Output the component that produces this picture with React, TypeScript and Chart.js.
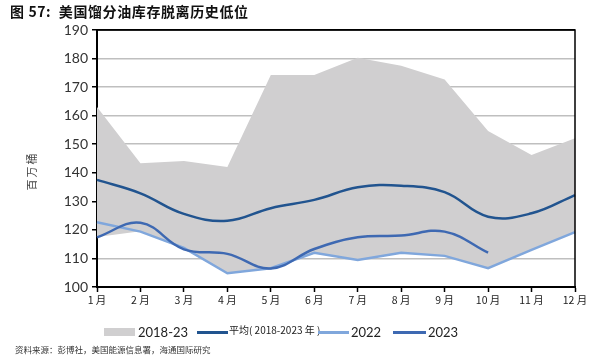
import React, { useEffect, useRef } from 'react';
import { Chart, registerables } from 'chart.js';
Chart.register(...registerables);

const months = ['1 月', '2 月', '3 月', '4 月', '5 月', '6 月', '7 月', '8 月', '9 月', '10 月', '11 月', '12 月'];
const bandMax = [163, 143.3, 144.1, 142, 174.2, 174.2, 180.3, 177.5, 172.7, 154.6, 146.2, 152.1];
const bandMin = [117.5, 119.5, 113.3, 104.8, 106.5, 112, 109.5, 112, 110.9, 106.6, 113, 119.2];
const avg = [137.5, 132.8, 125.6, 123.2, 127.6, 130.5, 134.9, 135.5, 133.2, 124.6, 125.8, 132.2];
const y2022 = [122.7, 119.4, 113.7, 104.8, 106.6, 112, 109.5, 112, 110.9, 106.6, 113, 119.2];
const y2023 = [117.4, 122.5, 113.2, 111.6, 106.5, 113.3, 117.4, 118, 119.4, 112, null, null];
const yTicks = [100, 110, 120, 130, 140, 150, 160, 170, 180, 190];

const C_BAND = '#d0cfd0';
const C_AVG = '#21548f';
const C_2022 = '#80a7dc';
const C_2023 = '#3e69b2';
const CJK = '"Noto Sans CJK SC", "Noto Sans", sans-serif';
const NUM = 'Lato, "Liberation Sans", sans-serif';

const extras = {
  id: 'extras',
  afterDraw(chart: any) {
    const { ctx, chartArea: a } = chart;
    ctx.save();
    ctx.strokeStyle = '#000';
    ctx.lineWidth = 1.5;
    ctx.beginPath();
    ctx.moveTo(a.left, a.top);
    ctx.lineTo(a.right, a.top);
    ctx.lineTo(a.right, a.bottom);
    ctx.stroke();
    ctx.translate(32, 171);
    ctx.rotate(-Math.PI / 2);
    ctx.font = '11px ' + CJK;
    ctx.fillStyle = '#444';
    ctx.textAlign = 'center';
    ctx.textBaseline = 'middle';
    try { (ctx as any).letterSpacing = '2px'; } catch (e) {}
    ctx.fillText('百万桶', 0, 0);
    ctx.restore();
  },
};

export default function App() {
  const ref = useRef<HTMLCanvasElement>(null);
  useEffect(() => {
    const chart = new Chart(ref.current as HTMLCanvasElement, {
      type: 'line',
      data: {
        labels: months,
        datasets: [
          { label: '平均', data: avg, borderColor: C_AVG, borderWidth: 2.5, tension: 0.4, pointRadius: 0, fill: false, order: 0 },
          { label: '2023', data: y2023, borderColor: C_2023, borderWidth: 2.5, tension: 0.4, pointRadius: 0, fill: false, order: 1 },
          { label: '2022', data: y2022, borderColor: C_2022, borderWidth: 2.5, tension: 0, pointRadius: 0, fill: false, order: 2 },
          { label: '2018-23', data: bandMax, borderColor: 'rgba(0,0,0,0)', borderWidth: 0, backgroundColor: C_BAND, tension: 0, pointRadius: 0, fill: '+1', order: 3 },
          { label: 'min', data: bandMin, borderColor: 'rgba(0,0,0,0)', borderWidth: 0, tension: 0, pointRadius: 0, fill: false, order: 4 },
        ] as any,
      },
      options: {
        responsive: false,
        animation: false,
        devicePixelRatio: 1,
        layout: { padding: { top: 30, right: 20, bottom: 0, left: 0 } },
        plugins: { legend: { display: false }, tooltip: { enabled: false } },
        scales: {
          x: {
            type: 'category',
            offset: false,
            afterFit: (s: any) => { s.height = 75; s.paddingLeft = 0; s.paddingRight = 0; },
            grid: { drawOnChartArea: false, drawTicks: true, tickLength: 5, tickColor: '#000', tickWidth: 1.5 },
            border: { color: '#000', width: 2 },
            ticks: { font: { size: 10.5, family: CJK }, color: '#222', padding: 2, maxRotation: 0, autoSkip: false },
          },
          y: {
            min: 100,
            max: 190,
            afterFit: (s: any) => { s.width = 97; s.paddingTop = 0; s.paddingBottom = 0; },
            afterBuildTicks: (s: any) => { s.ticks = yTicks.map((v) => ({ value: v })); },
            grid: {
              color: (c: any) => (c.tick && c.tick.value === 190 ? '#000' : '#bfbfbf'),
              lineWidth: 1.5,
              tickLength: 5,
              tickColor: '#000',
              tickWidth: 1.5,
            },
            border: { color: '#000', width: 2 },
            ticks: { font: { size: 14, family: NUM }, color: '#333', padding: 4 },
          },
        },
      } as any,
      plugins: [extras],
    });
    return () => chart.destroy();
  }, []);

  const txt = (left: number, cy: number, size: number, s: string, fam: string, extra: any = {}) => (
    <span style={{ position: 'absolute', left, top: cy - 8, lineHeight: '16px', fontSize: size, fontFamily: fam, color: '#222', whiteSpace: 'nowrap', ...extra }}>{s}</span>
  );
  const bar = (left: number, top: number, w: number, h: number, c: string) => (
    <div style={{ position: 'absolute', left, top, width: w, height: h, background: c }} />
  );

  return (
    <div style={{ position: 'fixed', left: 0, top: 0, width: 595, height: 362, background: '#fff', overflow: 'hidden' }}>
      <canvas ref={ref} width={595} height={362} style={{ position: 'absolute', left: 0, top: 0 }} />
      <div style={{ position: 'absolute', left: 10, top: 2, lineHeight: '18px', fontSize: 14, letterSpacing: '0.6px', fontWeight: 'bold', fontFamily: CJK, color: '#111', whiteSpace: 'nowrap' }}>
        图 57:&nbsp; 美国馏分油库存脱离历史低位
      </div>
      {bar(104, 328, 31, 8, C_BAND)}
      {txt(138, 332, 13, '2018-23', NUM)}
      {bar(197, 331, 31, 3, C_AVG)}
      {txt(229, 330, 10, '平均( 2018-2023 年 )', CJK)}
      {bar(318, 331, 31, 3, C_2022)}
      {txt(351, 332, 13, '2022', NUM)}
      {bar(393, 331, 33, 3, C_2023)}
      {txt(428, 332, 13, '2023', NUM)}
      {txt(15, 349, 8.5, '资料来源：彭博社，美国能源信息署，海通国际研究', CJK, { color: '#333' })}
    </div>
  );
}
